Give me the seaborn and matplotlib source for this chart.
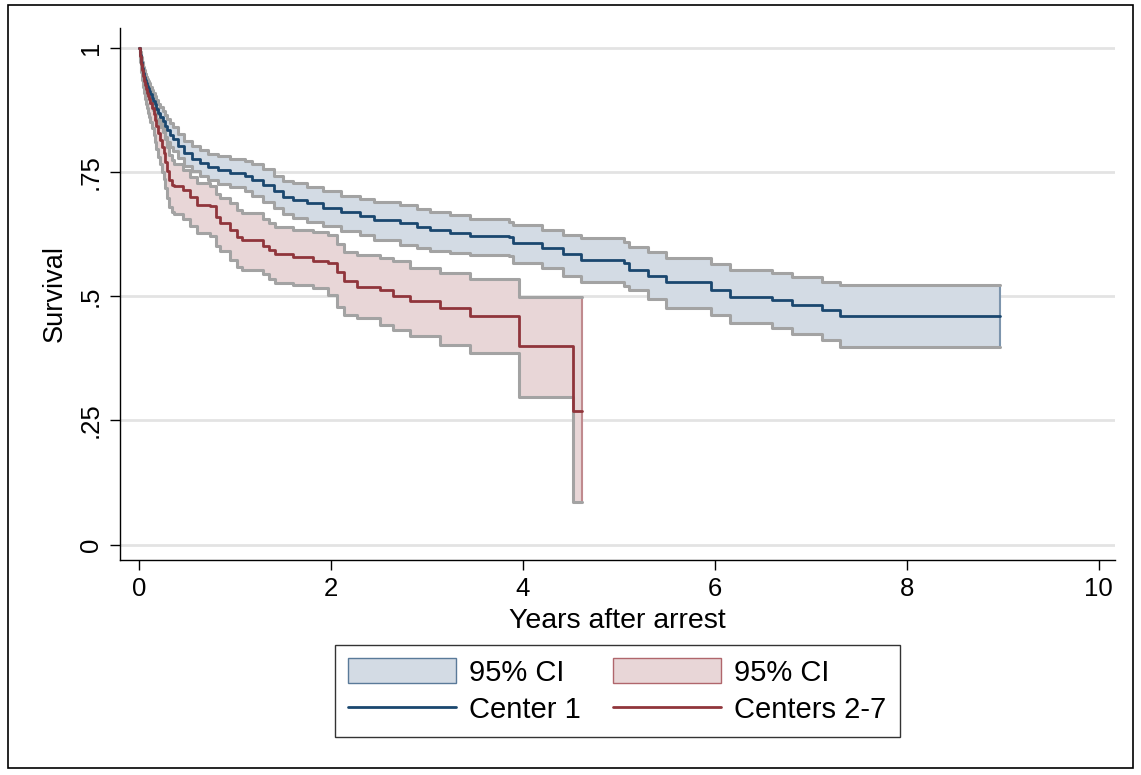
import numpy as np
import pandas as pd
import matplotlib
matplotlib.use("Agg")
import matplotlib.pyplot as plt
from matplotlib.patches import Patch, Rectangle
from matplotlib.lines import Line2D
import seaborn as sns

# ---- Data ----
c1_time = [0.00, 0.01, 0.02, 0.03, 0.04, 0.05, 0.06, 0.07, 0.08, 0.09, 0.10, 0.115, 0.13, 0.145,
           0.16, 0.18, 0.20, 0.22, 0.245, 0.27, 0.295, 0.32, 0.35, 0.40, 0.47, 0.55, 0.63,
           0.72, 0.82, 0.95, 1.10, 1.18, 1.29, 1.40, 1.50, 1.60, 1.75, 1.92, 2.10, 2.30, 2.45,
           2.72, 2.90, 3.03, 3.24, 3.45, 3.85, 3.90, 4.20, 4.42, 4.60, 5.05, 5.10, 5.30, 5.49,
           5.96, 6.16, 6.60, 6.80, 7.12, 7.30, 8.97]
c1_surv = [1.000, 0.985, 0.972, 0.960, 0.950, 0.942, 0.935, 0.929, 0.924, 0.919, 0.914, 0.907,
           0.900, 0.893, 0.886, 0.877, 0.869, 0.861, 0.852, 0.843, 0.834, 0.825, 0.816, 0.802,
           0.788, 0.777, 0.768, 0.760, 0.755, 0.748, 0.742, 0.734, 0.724, 0.712, 0.700, 0.694,
           0.688, 0.678, 0.670, 0.662, 0.654, 0.647, 0.640, 0.634, 0.628, 0.622, 0.620, 0.607,
           0.597, 0.585, 0.573, 0.567, 0.553, 0.540, 0.529, 0.513, 0.499, 0.493, 0.483, 0.473,
           0.460, 0.460]
c1_lo = [1.000, 0.979, 0.964, 0.950, 0.939, 0.930, 0.922, 0.915, 0.909, 0.904, 0.898, 0.890,
         0.882, 0.875, 0.867, 0.857, 0.848, 0.840, 0.830, 0.820, 0.811, 0.801, 0.792, 0.778,
         0.763, 0.752, 0.742, 0.733, 0.726, 0.719, 0.711, 0.702, 0.690, 0.678, 0.665, 0.657,
         0.650, 0.642, 0.632, 0.624, 0.614, 0.604, 0.598, 0.592, 0.587, 0.584, 0.580, 0.567,
         0.556, 0.540, 0.529, 0.521, 0.512, 0.495, 0.477, 0.463, 0.447, 0.437, 0.423, 0.412,
         0.398, 0.398]
c1_hi = [1.000, 0.991, 0.980, 0.969, 0.960, 0.953, 0.947, 0.942, 0.937, 0.933, 0.929, 0.922,
         0.916, 0.910, 0.904, 0.895, 0.888, 0.881, 0.872, 0.864, 0.856, 0.848, 0.840, 0.827,
         0.813, 0.802, 0.794, 0.787, 0.782, 0.777, 0.772, 0.766, 0.756, 0.742, 0.732, 0.727,
         0.719, 0.711, 0.702, 0.696, 0.690, 0.684, 0.676, 0.670, 0.664, 0.656, 0.650, 0.643,
         0.633, 0.624, 0.617, 0.609, 0.600, 0.590, 0.577, 0.565, 0.553, 0.547, 0.539, 0.529,
         0.522, 0.522]

c2_time = [0.00, 0.01, 0.02, 0.03, 0.04, 0.05, 0.06, 0.07, 0.08, 0.09, 0.10, 0.115, 0.13, 0.15,
           0.165, 0.18, 0.20, 0.22, 0.24, 0.255, 0.27, 0.285, 0.31, 0.34, 0.36, 0.46,
           0.53, 0.60, 0.74, 0.80, 0.84, 0.95, 1.02, 1.07, 1.29, 1.35, 1.42, 1.60, 1.81, 1.97,
           2.06, 2.13, 2.27, 2.51, 2.65, 2.82, 3.14, 3.45, 3.96, 4.52, 4.61]
c2_surv = [1.000, 0.983, 0.968, 0.955, 0.944, 0.934, 0.925, 0.917, 0.910, 0.903, 0.897, 0.889,
           0.878, 0.866, 0.854, 0.842, 0.828, 0.815, 0.801, 0.788, 0.770, 0.752, 0.735, 0.724,
           0.721, 0.714, 0.700, 0.684, 0.681, 0.660, 0.647, 0.633, 0.620, 0.613, 0.602, 0.593,
           0.585, 0.578, 0.570, 0.566, 0.549, 0.530, 0.519, 0.513, 0.501, 0.491, 0.477, 0.461,
           0.400, 0.268, 0.268]
c2_lo = [1.000, 0.972, 0.952, 0.936, 0.922, 0.910, 0.898, 0.887, 0.878, 0.869, 0.861, 0.851,
         0.838, 0.824, 0.810, 0.796, 0.780, 0.766, 0.750, 0.736, 0.717, 0.698, 0.680, 0.669,
         0.665, 0.655, 0.642, 0.628, 0.622, 0.602, 0.592, 0.572, 0.558, 0.553, 0.545, 0.535,
         0.527, 0.522, 0.516, 0.503, 0.479, 0.463, 0.457, 0.443, 0.433, 0.419, 0.402, 0.386,
         0.298, 0.085, 0.085]
c2_hi = [1.000, 0.992, 0.981, 0.971, 0.962, 0.955, 0.948, 0.941, 0.935, 0.930, 0.924, 0.918,
         0.909, 0.899, 0.889, 0.879, 0.867, 0.855, 0.843, 0.832, 0.816, 0.800, 0.785, 0.775,
         0.766, 0.755, 0.740, 0.728, 0.722, 0.706, 0.698, 0.687, 0.674, 0.667, 0.656, 0.648,
         0.640, 0.634, 0.630, 0.624, 0.605, 0.590, 0.583, 0.577, 0.570, 0.557, 0.547, 0.535,
         0.499, 0.499, 0.499]

groups = ["Center 1", "Centers 2-7"]
x_ticks = [0, 2, 4, 6, 8, 10]
y_ticks = [0, 0.25, 0.5, 0.75, 1]
y_tick_labels = ["0", ".25", ".5", ".75", "1"]

# ---- Style ----
sns.set_style("white")
plt.rcParams["font.family"] = ["Liberation Sans", "DejaVu Sans"]
plt.rcParams["text.color"] = "black"
plt.rcParams["axes.labelcolor"] = "black"
plt.rcParams["xtick.color"] = "black"
plt.rcParams["ytick.color"] = "black"

navy = "#1a476f"
maroon = "#90353b"
navy_fill = "#d3dbe4"
maroon_fill = "#e8d6d7"
ci_gray = "#a3a3a3"

W, H = 1141, 775
fig = plt.figure(figsize=(W / 100, H / 100), dpi=100)
ax = fig.add_axes([120 / W, 1 - 560 / H, (1115 - 120) / W, (560 - 28) / H])

df = pd.concat([
    pd.DataFrame({"time": c1_time, "surv": c1_surv, "lo": c1_lo, "hi": c1_hi, "group": groups[0]}),
    pd.DataFrame({"time": c2_time, "surv": c2_surv, "lo": c2_lo, "hi": c2_hi, "group": groups[1]}),
], ignore_index=True)

fills = {groups[0]: (navy_fill, "#7d95ad"), groups[1]: (maroon_fill, "#c08a8e")}
for g in groups:
    d = df[df.group == g]
    ax.fill_between(d["time"], d["lo"], d["hi"], step="post", facecolor=fills[g][0],
                    edgecolor="none", zorder=2)
    ax.vlines(d["time"].iloc[-1], d["lo"].iloc[-1], d["hi"].iloc[-1], color=fills[g][1],
              lw=1.5, zorder=2.5)

for g in groups:
    d = df[df.group == g]
    sns.lineplot(data=d, x="time", y="lo", drawstyle="steps-post", color=ci_gray, lw=2.2,
                 estimator=None, sort=False, ax=ax, zorder=3, legend=False)
    sns.lineplot(data=d, x="time", y="hi", drawstyle="steps-post", color=ci_gray, lw=2.2,
                 estimator=None, sort=False, ax=ax, zorder=3, legend=False)

sns.lineplot(data=df, x="time", y="surv", hue="group", palette=[navy, maroon],
             drawstyle="steps-post", estimator=None, sort=False, lw=2.0, ax=ax, zorder=4,
             legend=False)

ax.set_xlim(-0.2, 10.17)
ax.set_ylim(-0.031, 1.04)
ax.set_xticks(x_ticks)
ax.set_yticks(y_ticks)
ax.set_yticklabels(y_tick_labels, rotation=90, va="center")
ax.tick_params(axis="both", direction="out", length=7.5, width=1, color="black",
               labelcolor="black", labelsize=18.5, pad=5)
ax.tick_params(axis="x", bottom=True)
ax.tick_params(axis="y", left=True)
for s in ["top", "right"]:
    ax.spines[s].set_visible(False)
for s in ["left", "bottom"]:
    ax.spines[s].set_color("black")
    ax.spines[s].set_linewidth(1.0)

ax.grid(False)
for yv in y_ticks:
    ax.axhline(yv, color="#e3e3e3", lw=2, zorder=1)

ax.set_xlabel("Years after arrest", fontsize=20.5, labelpad=5, color="black")
ax.set_ylabel("Survival", fontsize=19.5, labelpad=8, color="black")

handles = [
    Patch(facecolor=navy_fill, edgecolor="#5a7a99", lw=1),
    Line2D([0], [0], color=navy, lw=2),
    Patch(facecolor=maroon_fill, edgecolor="#b0666c", lw=1),
    Line2D([0], [0], color=maroon, lw=2),
]
labels = ["95% CI", "Center 1", "95% CI", "Centers 2-7"]
leg = fig.legend(handles, labels, ncol=2, loc="center", bbox_to_anchor=(617.5 / W, 1 - 691 / H),
                 fontsize=21, frameon=True, fancybox=False, edgecolor="black",
                 handlelength=3.7, handleheight=0.95, handletextpad=0.45, columnspacing=1.1,
                 labelspacing=0.3, borderpad=0.45)
leg.get_frame().set_linewidth(1.0)
for t in leg.get_texts():
    t.set_color("black")

fig.patches.append(Rectangle((8 / W, 1 - 768 / H), (1133 - 8) / W, (768 - 5) / H,
                             transform=fig.transFigure, fill=False, edgecolor="black", lw=1.2))

fig.savefig("out.png", dpi=100, facecolor="white")
